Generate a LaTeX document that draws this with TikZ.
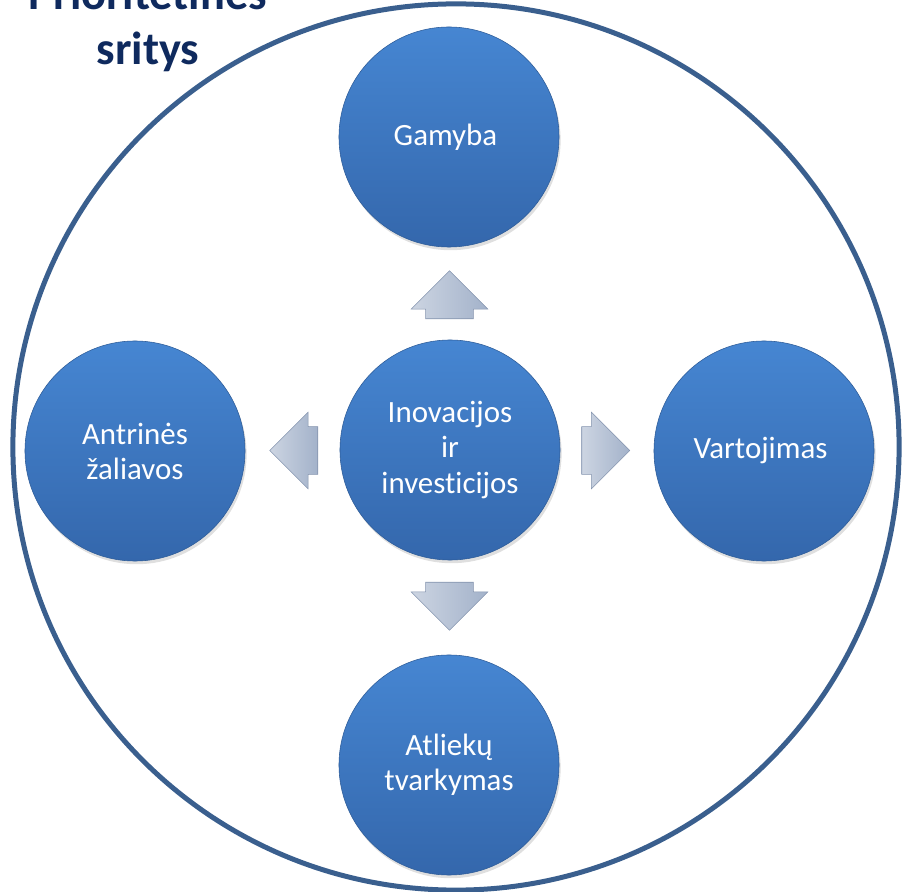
\documentclass[tikz,border=0pt]{standalone}
\usepackage{fontspec}
\setmainfont{Carlito}[Ligatures=NoCommon]
\usetikzlibrary{shapes.arrows,shadows,calc}
\definecolor{balltop}{HTML}{4686D2}
\definecolor{balldark}{HTML}{3467AC}
\definecolor{ballrim}{HTML}{2C5B98}
\definecolor{framecol}{HTML}{3A5F8E}
\definecolor{titlecol}{HTML}{0F2A5E}
\definecolor{arrowfill}{HTML}{A3B2CA}
\definecolor{arrowedge}{HTML}{8494AE}
\tikzset{
  area/.style={circle, minimum size=5.5cm, inner sep=0pt, align=center, text=white,
    top color=balltop, bottom color=balldark, draw=ballrim, thin,
    font=\fontsize{22}{25}\selectfont,
    drop shadow={opacity=0.25, shadow xshift=0.04cm, shadow yshift=-0.08cm}},
  flowarrow/.style={single arrow, minimum height=1.2cm,
    single arrow head extend=0.36cm, single arrow head indent=0pt,
    inner xsep=0pt, inner ysep=0.59cm, xshift=-0.33cm,
    left color=arrowfill!55!white, right color=arrowfill, draw=arrowedge, thin}
}
\begin{document}
\begin{tikzpicture}[x=0.025cm, y=-0.025cm]
  \useasboundingbox (0,0) rectangle (904,892);
  % outer frame and title
  \node [ circle, draw=framecol, line width=0.125cm, minimum size=22.15cm, inner sep=0pt ] (frame) at (456,447) {};
  \node [ text=titlecol, font=\bfseries\fontsize{33}{39}\selectfont, align=center ] (title) at (148,24) { Prioritetinės\\sritys };

  % areas
  \node [ area ] (inno) at (450,450) { Inovacijos\\ir\\investicijos };
  \node [ area ] (gamyba) at (449,137) { Gamyba };
  \node [ area ] (antr) at (135,451) { Antrinės\\žaliavos };
  \node [ area ] (vart) at (764,451) { Vartojimas };
  \node [ area ] (atliek) at (449,765) { Atliekų\\tvarkymas };

  % arrows
  \node [ rotate=90, flowarrow ] (upA) at ($(inno)!0.5!(gamyba)$) {};
  \node [ rotate=180, flowarrow ] (leftA) at ($(inno)!0.5!(antr)$) {};
  \node [ flowarrow ] (rightA) at ($(inno)!0.5!(vart)$) {};
  \node [ rotate=-90, flowarrow ] (downA) at ($(inno)!0.5!(atliek)$) {};
\end{tikzpicture}
\end{document}
